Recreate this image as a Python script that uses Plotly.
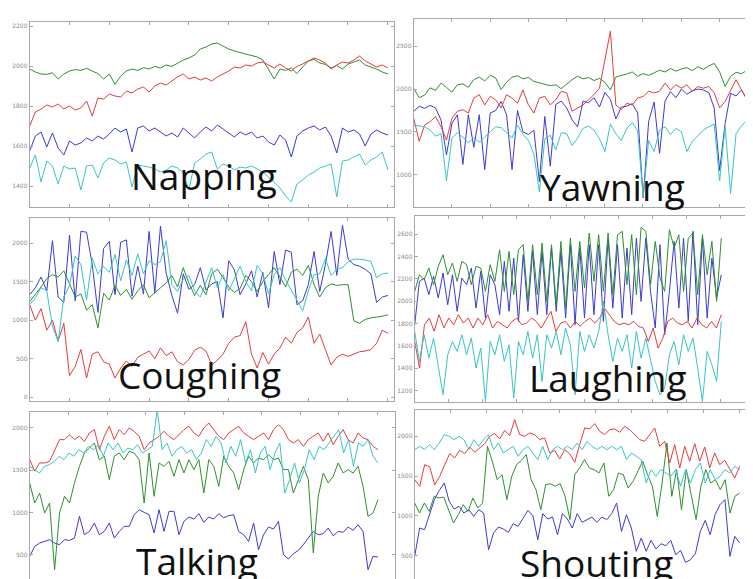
import numpy as np
import plotly.graph_objects as go

# ---------------- data ----------------
# Napping
nap_blue = [1575,1650,1670,1595,1665,1590,1555,1625,1605,1615,1640,1625,1650,1635,1660,1690,1670,1685,1570,1690,
            1700,1675,1690,1670,1650,1665,1645,1690,1665,1640,1670,1695,1675,1705,1685,1665,1645,1670,1655,1670,
            1640,1650,1620,1605,1655,1630,1545,1650,1675,1690,1700,1680,1695,1650,1565,1690,1670,1680,1660,1600,
            1660,1680,1665,1655]
nap_green = [1985,1970,1960,1958,1966,1935,1960,1975,1982,1978,1988,1975,1962,1935,1960,1908,1950,1975,1985,1978,
             1992,1985,1998,1990,2005,1998,2015,2030,2040,2055,2085,2095,2110,2115,2100,2085,2075,2068,2060,2052,
             2045,2030,1985,1935,1985,1978,1990,1962,1995,2025,2033,2015,2008,1990,2002,1985,2010,2020,2030,2005,
             1995,1985,1970,1960]
nap_red = [1700,1770,1785,1805,1795,1810,1785,1800,1780,1790,1825,1750,1840,1835,1860,1850,1845,1875,1865,1885,
           1895,1870,1900,1915,1905,1925,1945,1960,1935,1945,1930,1940,1925,1945,1960,1975,1995,1990,2005,2000,
           2015,2020,2005,1990,2010,1990,1975,1998,2010,2025,2040,2030,2015,1985,2005,2020,2015,2030,2050,2025,
           2010,1995,2005,1990]
nap_cyan = [1490,1555,1420,1525,1500,1410,1500,1485,1490,1380,1500,1505,1440,1515,1540,1530,1510,1520,1395,1505,
            1500,1495,1485,1470,1480,1500,1490,1465,1380,1515,1535,1560,1570,1485,1510,1500,1480,1495,1490,1500,
            1485,1470,1445,1420,1390,1350,1320,1410,1430,1455,1470,1490,1500,1510,1345,1525,1530,1545,1560,1505,
            1530,1545,1570,1480]

# Yawning
yaw_blue = [1740,1800,1775,1810,1780,1640,1230,1600,1700,1120,1700,1320,1700,1060,1720,1750,1855,1700,1060,1750,
            1500,1470,1520,920,1680,1100,1820,1860,1780,1640,1560,1860,1840,1900,1790,1960,1880,1650,1790,1800,
            1830,1720,730,1620,1850,1250,1860,1970,1900,2000,1940,1980,2000,1990,1960,1780,1050,1600,1950,1920,
            1990,1880,1840,1290]
yaw_green = [2010,1900,1930,2015,1985,2070,2020,1965,2050,2060,2020,2110,2140,2095,2160,2130,1995,2080,2140,2155,
             2120,2135,2090,2070,2055,2040,2050,2005,2060,2110,2150,2120,2135,2100,2125,2080,1990,2140,2160,2175,
             2200,2150,2180,2160,2190,2220,2200,2240,2210,2235,2250,2215,2260,2230,2270,2300,2200,2030,2150,2195,
             2180,2220,2230,2310]
yaw_red = [1660,1390,1580,1620,1680,1560,1405,1660,1740,1760,1720,1895,1935,1815,1915,1875,1780,1935,1895,1835,
           1990,1815,1720,1895,1915,1815,1875,1975,1955,1740,1780,1815,1875,1935,2010,2325,2675,1815,1760,1835,
           1815,1895,1915,1975,1955,1975,2070,1990,2050,2010,2050,1975,2030,2010,2030,1955,1780,1855,1975,2110,
           1990,1875,1935,1915]
yaw_cyan = [1580,1570,1560,1520,1450,1480,930,1430,1490,1440,1370,1430,1380,1440,1500,1560,1550,1490,1430,1580,
            1470,1400,1240,800,1420,1460,1290,1490,1480,1340,1430,1540,1570,1520,1420,1270,1590,1480,1400,1540,
            1610,1510,740,1400,1270,1520,1560,1470,1540,1500,1270,1390,1450,1520,1560,1590,930,1560,780,1480,
            1570,1640,1600,1230]

# Coughing
cou_blue = [1330,1420,1560,1380,2030,1300,1230,2100,1250,2150,2140,1720,1100,1930,2020,1330,2010,2040,1310,1700,
            1340,2150,1350,2220,1610,1320,1090,1600,1400,1460,1680,1390,1470,1500,1030,1770,1650,1330,1470,1640,
            1300,1620,1160,1890,1460,1910,1880,1200,1250,1460,1890,1370,1720,2150,1580,2230,1790,1720,1700,1660,
            1600,1230,1300,1320]
cou_green = [1240,1330,1430,1540,1590,1560,1640,1470,1300,1340,1130,1200,900,1350,1260,1450,1320,1400,1270,1380,
             1460,1290,1360,1420,1480,1580,1430,1680,1480,1320,1450,1330,1600,1660,1550,1430,1360,1410,1580,1500,
             1370,1500,1590,1680,1560,1430,1620,1660,1580,1710,1460,1300,1420,1470,1450,1460,1460,990,960,1010,
             1030,1040,1050,1070]
cou_red = [1200,1000,1150,870,1000,730,960,280,400,620,250,560,590,460,430,250,380,470,400,520,
           560,600,500,640,540,590,460,420,490,610,650,600,420,480,560,700,780,800,980,560,
           380,580,430,560,640,780,700,840,900,1040,700,820,620,420,520,560,530,560,590,600,
           620,700,870,830]
cou_cyan = [1200,1290,1420,1380,920,720,1300,1450,1830,1720,1260,1800,1600,1700,1620,1850,1510,1780,1580,1860,
            1600,1770,1720,1760,2030,1460,1370,1530,1580,1380,1300,1500,1680,1420,1590,1380,1540,1700,1500,1380,
            1710,1600,1340,1590,1680,1520,1390,1250,1120,1380,1590,1600,1800,1580,1660,1680,1760,1790,1790,1780,
            1760,1550,1600,1610]

# Laughing
lau_blue = [1789,2177,2207,2058,2222,2028,2251,1968,2236,1909,2207,2147,2296,1938,2266,1849,2236,2147,1879,2356,
            1909,2385,1819,2415,1909,2445,1879,2445,1879,2475,1909,2445,1849,2505,1789,2475,1849,2505,1879,2505,
            1819,2564,1938,2505,1849,2475,1879,2564,1998,2564,2087,1760,2505,1700,2087,2534,1938,2564,1819,2624,
            1789,2564,1849,2385,2028,2236]
lau_green = [2087,2236,2192,2296,2147,2311,2415,2236,2341,2177,2356,2326,2147,2311,2296,2087,2326,2177,2460,2087,
             2445,2058,2460,2505,1998,2505,2058,2520,1998,2505,1968,2534,1938,2564,2087,2534,2117,2609,2177,2594,
             2087,2609,2058,2594,2624,2147,2594,2058,2660,2624,2147,2534,2207,2087,2639,2475,2594,2087,2564,2609,
             2058,2594,2236,2534,1998,2564]
lau_red = [1640,1402,1789,1849,1730,1879,1760,1849,1789,1879,1804,1849,1760,1849,1789,1879,1760,1819,1789,1760,
           1819,1849,1789,1804,1849,1819,1760,1834,1909,1730,1804,1819,1760,1819,1775,1819,1849,1804,1849,1938,
           1879,1819,1789,1804,1789,1819,1775,1760,1640,1760,1581,1670,1819,1849,1804,1789,1819,1760,1849,1789,
           1760,1819,1760,1879]
lau_cyan = [1730,1462,1700,1491,1670,1432,1164,1521,1640,1551,1700,1521,1670,1402,1581,1104,1640,1521,1700,1462,
            1611,1134,1640,1521,1730,1491,1700,1283,1700,1581,1730,1521,1760,1611,1164,1730,1551,1700,1581,1730,
            1998,1700,1462,1670,1551,1700,1402,1730,1491,1670,1462,1283,1164,1223,1521,1640,1432,1700,1551,1670,
            1402,1104,1551,1432,1283,1819]

# Talking
tal_blue = [480,599,638,658,678,638,619,678,670,697,954,737,776,875,737,776,875,697,776,836,
            836,974,1033,1001,974,757,1033,776,1013,1013,737,895,946,922,986,883,946,922,986,938,
            962,974,776,737,658,875,559,737,828,804,895,500,449,512,551,619,697,776,737,749,
            816,725,776,765,828,788,855,776,322,480,473]
tal_green = [1349,1112,1230,994,1112,322,994,1191,1112,1349,1546,1704,1763,1822,1625,1665,1388,1665,1704,1625,
             1724,1704,1625,1112,1704,1191,1586,1546,1605,1428,1625,1467,1625,1507,1625,1230,1625,1546,1309,1665,
             1546,1467,1270,1507,1665,1586,1645,1625,1684,1625,1645,1507,1507,1230,1388,1546,1388,520,1191,1467,
             1349,1428,1586,1467,1507,1467,1546,1309,954,994,1151]
tal_red = [1625,1488,1586,1586,1605,1724,1862,1862,1921,1862,1901,1842,1941,1980,1743,1901,2020,1862,1980,1921,
           2000,1961,1901,1743,1822,1862,1901,1961,1901,1862,1921,1980,2020,1941,1901,2000,2059,1980,1901,1862,
           1941,1980,2020,1941,1901,1862,1901,1941,1862,1980,2039,1980,1862,1822,1862,1783,1862,1901,1941,1842,
           1941,1803,1901,1980,1862,1822,1941,1882,1862,1783,1743]
tal_cyan = [1546,1507,1467,1546,1566,1605,1665,1625,1704,1665,1743,1704,1783,1743,1803,1665,1822,1743,1822,1704,
            1763,1743,1803,1704,1743,1783,2217,1743,1822,1665,1743,1783,1704,1743,1625,1704,1862,1783,1901,1822,
            1586,1783,1665,1862,1586,1743,1467,1704,1783,1507,1704,1822,1230,1388,1586,1349,1507,1743,1625,1783,
            1743,1822,1901,1980,1704,1862,1546,1822,1783,1862,1665,1586]

# Shouting
sho_blue = [492,848,827,1015,1204,1321,1413,1183,1087,1120,1036,1078,994,1078,1036,575,785,860,835,793,
            902,869,973,1070,1003,701,1028,961,986,764,1028,961,848,1028,919,953,986,919,986,953,
            1028,1162,806,1015,848,555,722,555,693,584,651,626,693,513,567,416,450,525,806,944,
            764,1015,1141,1204,492,743,659]
sho_green = [1162,1036,1162,1057,1246,1225,1237,1078,911,1015,1141,1057,1225,1099,1162,1874,1686,1455,1518,1204,
             1497,1644,1698,1770,1455,1330,1078,1392,1405,1372,1405,1246,953,1518,1602,1707,1602,1581,1539,1665,
             1246,1330,1539,1518,1351,1434,1560,1686,1518,1372,994,1413,1916,1246,1581,1078,1581,1246,953,1372,
             1581,1413,1455,1330,1455,1036,1246,1288]
sho_red = [1455,1372,1644,1615,1392,1497,1644,1782,1728,1824,1782,1866,1799,1853,1908,2000,2034,1966,2075,2008,
           2210,2021,2000,2042,2021,1958,1979,1791,1824,1715,1832,1782,1673,1895,2105,2092,2159,2063,2021,2084,
           2092,2050,2126,2084,2021,1958,1937,2021,2105,1874,1937,1665,1895,1602,1874,1686,1908,1686,1866,1602,
           1791,1644,1698,1589,1476,1623]
sho_cyan = [1832,1874,1832,1895,1832,1916,2021,2000,1958,2000,1958,1832,1958,1874,1958,2021,1832,1916,1791,1832,
            1874,1749,1832,1874,1791,1707,1874,1707,1832,1874,1832,1874,1832,1916,1832,1937,1874,1832,1874,1832,
            1874,1832,1874,1707,1791,1749,1707,1413,1581,1497,1581,1539,1497,1581,1372,1581,1413,1581,1665,1413,
            1581,1455,1497,1581,1539,1623,1581]

labels = ["Napping", "Yawning", "Coughing", "Laughing", "Talking", "Shouting"]
nap_ticks = [1400, 1600, 1800, 2000, 2200]
yaw_ticks = [1000, 1500, 2000, 2500]
cou_ticks = [0, 500, 1000, 1500, 2000]
lau_ticks = [1200, 1400, 1600, 1800, 2000, 2200, 2400, 2600]
tal_ticks = [500, 1000, 1500, 2000]
sho_ticks = [500, 1000, 1500, 2000]

# ---------------- layout ----------------
W, H = 753, 579
BLUE, GREEN, RED, CYAN = "#3a3ad4", "#2e8f2e", "#e43c3c", "#38c4c4"
FRAME = "#a8a8a8"

panels = [
    dict(series=[nap_blue, nap_green, nap_red, nap_cyan], ticks=nap_ticks, yr=[1295, 2220],
         px=(21.7, 385.7), py=(14, 199), xr=1.016, right=True, bottom=True,
         label=(121, 168)),
    dict(series=[yaw_blue, yaw_green, yaw_red, yaw_cyan], ticks=yaw_ticks, yr=[623, 2822],
         px=(405.7, 753), py=(10.7, 199), xr=1.009, right=False, bottom=True,
         label=(530, 178)),
    dict(series=[cou_blue, cou_green, cou_red, cou_cyan], ticks=cou_ticks, yr=[-44, 2324],
         px=(21.7, 385.7), py=(210, 392.7), xr=1.016, right=True, bottom=True,
         label=(108, 366)),
    dict(series=[lau_blue, lau_green, lau_red, lau_cyan], ticks=lau_ticks, yr=[1099, 2761],
         px=(406.7, 753), py=(208, 394), xr=1.1295, right=False, bottom=True,
         label=(519, 369)),
    dict(series=[tal_blue, tal_green, tal_red, tal_cyan], ticks=tal_ticks, yr=[118, 2189],
         px=(21.7, 386.7), py=(404, 579), xr=1.048, right=True, bottom=False,
         label=(126, 552)),
    dict(series=[sho_blue, sho_green, sho_red, sho_cyan], ticks=sho_ticks, yr=[107, 2334],
         px=(406.7, 753), py=(401.7, 579), xr=1.0655, right=False, bottom=False,
         label=(510, 554)),
]

fig = go.Figure()
colors = [BLUE, GREEN, RED, CYAN]
for i, p in enumerate(panels):
    k = "" if i == 0 else str(i + 1)
    for vals, col in zip(p["series"], colors):
        t = np.linspace(0, 1, len(vals))
        fig.add_trace(go.Scatter(x=t, y=vals, mode="lines", xaxis="x" + k, yaxis="y" + k,
                                 line=dict(color=col, width=1), showlegend=False,
                                 hoverinfo="skip"))
    x0, x1 = p["px"]
    y0, y1 = p["py"]
    xa = dict(domain=[x0 / W, min(x1 / W, 1.0)], range=[0, p["xr"]], anchor="y" + k,
              showgrid=False, zeroline=False, showticklabels=False,
              showline=True, linecolor=FRAME, linewidth=1,
              ticks="inside", ticklen=3, tickcolor=FRAME, dtick=0.111)
    if p["bottom"]:
        xa["mirror"] = "ticks"
    else:
        xa["side"] = "top"
        xa["mirror"] = False
    ya = dict(domain=[max(1 - y1 / H, 0.0), 1 - y0 / H], range=p["yr"], anchor="x" + k,
              showgrid=False, zeroline=False, showline=True, linecolor=FRAME, linewidth=1,
              ticks="inside", ticklen=3, tickcolor=FRAME,
              tickvals=p["ticks"], ticktext=[str(v) for v in p["ticks"]],
              tickfont=dict(size=6, color="#8a8a8a", family="DejaVu Sans"),
              mirror="ticks" if p["right"] else False)
    fig.layout["xaxis" + k] = xa
    fig.layout["yaxis" + k] = ya
    lx, ly = p["label"]
    fig.add_annotation(text=labels[i], xref="paper", yref="paper", x=lx / W, y=1 - ly / H,
                       xanchor="left", yanchor="middle", showarrow=False,
                       font=dict(family="Open Sans", size=37, color="#111111"))

fig.update_layout(width=W, height=H, margin=dict(l=0, r=0, t=0, b=0),
                  paper_bgcolor="white", plot_bgcolor="white")
fig.write_html("out.html")
